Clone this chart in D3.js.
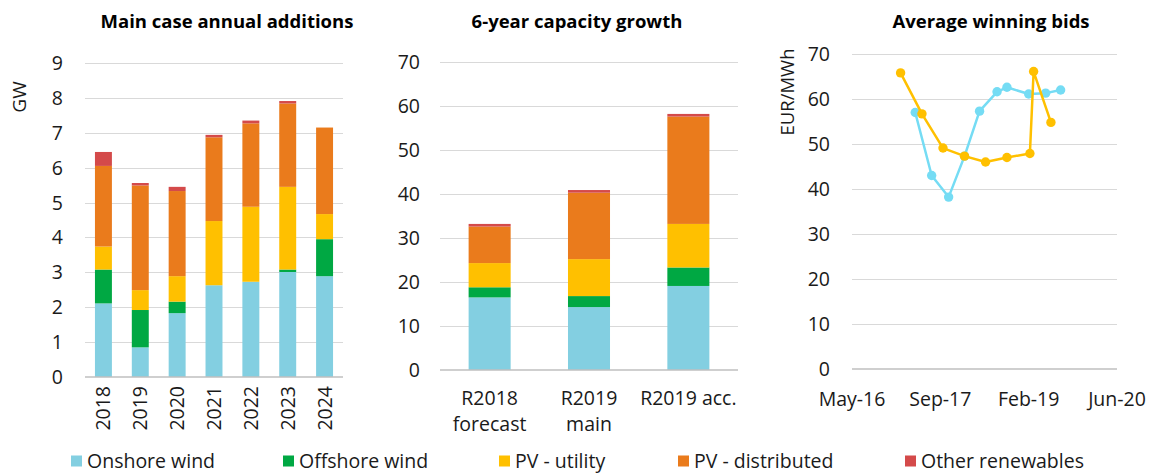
<!DOCTYPE html>
<html>
<head>
<meta charset="utf-8">
<script src="https://cdn.jsdelivr.net/npm/d3@7"></script>
<style>
  body { margin: 0; background: #fff; }
  svg { font-family: "Open Sans", "Noto Sans", sans-serif; }
</style>
</head>
<body>
<svg id="chart" width="1153" height="474"></svg>
<script>
// series and category data
var seriesNames = ["Onshore wind", "Offshore wind", "PV - utility", "PV - distributed", "Other renewables"];
var seriesColors = ["#83cfe1", "#00a843", "#ffc000", "#ea7b1c", "#d44a4a"];

var years = ["2018", "2019", "2020", "2021", "2022", "2023", "2024"];
var onshoreAnnual = [2.11, 0.85, 1.83, 2.63, 2.73, 3.01, 2.89];
var offshoreAnnual = [0.97, 1.07, 0.33, 0, 0, 0.07, 1.06];
var utilityAnnual = [0.66, 0.57, 0.73, 1.84, 2.15, 2.37, 0.72];
var distributedAnnual = [2.31, 3.0, 2.44, 2.40, 2.39, 2.39, 2.48];
var otherAnnual = [0.40, 0.07, 0.12, 0.07, 0.08, 0.07, 0];
var annualTicks = [0, 1, 2, 3, 4, 5, 6, 7, 8, 9];

var cases = ["R2018 forecast", "R2019 main", "R2019 acc."];
var caseLines = [["R2018", "forecast"], ["R2019", "main"], ["R2019 acc."]];
var onshoreGrowth = [16.5, 14.3, 19.1];
var offshoreGrowth = [2.3, 2.5, 4.2];
var utilityGrowth = [5.5, 8.4, 9.9];
var distributedGrowth = [8.3, 15.1, 24.4];
var otherGrowth = [0.6, 0.6, 0.6];
var growthTicks = [0, 10, 20, 30, 40, 50, 60, 70];

var windDates = ["2017-05-03", "2017-08-04", "2017-11-08", "2018-02-06", "2018-05-02", "2018-08-09",
                 "2018-10-04", "2019-02-04", "2019-05-11", "2019-08-04"];
var windBids = [57.0, 43.0, 38.2, 47.3, 57.3, 61.6, 62.6, 61.1, 61.3, 62.0];
var solarDates = ["2017-02-09", "2017-06-10", "2017-10-07", "2018-02-06", "2018-06-05", "2018-10-04",
                  "2019-02-11", "2019-03-04", "2019-06-10"];
var solarBids = [65.8, 56.7, 49.1, 47.3, 46.0, 47.0, 47.9, 66.1, 54.8];
var bidTicks = [0, 10, 20, 30, 40, 50, 60, 70];
var dateTicks = ["2016-05-10", "2017-09-22", "2019-02-04", "2020-06-18"];

var svg = d3.select("#chart");
var parseDate = d3.timeParse("%Y-%m-%d");
var gridColor = "#d9d9d9",
  baseColor = "#bfbfbf",
  textColor = "#1a1a1a",
  tickSize = "19.5px";

function drawTitle(x, text) {
  svg.append("text")
    .attr("x", x).attr("y", 28)
    .attr("text-anchor", "middle")
    .style("font-size", "18.5px")
    .style("font-weight", "bold")
    .attr("fill", "#000")
    .text(text);
}

function drawYAxis(y, ticks, x0, x1, labelX) {
  var g = svg.append("g");
  g.selectAll("line.grid").data(ticks.slice(1)).enter().append("line")
    .attr("x1", x0).attr("x2", x1)
    .attr("y1", function(d) { return Math.round(y(d)) + 0.5; })
    .attr("y2", function(d) { return Math.round(y(d)) + 0.5; })
    .attr("stroke", gridColor).attr("stroke-width", 1);
  g.selectAll("text").data(ticks).enter().append("text")
    .attr("x", labelX)
    .attr("y", function(d) { return y(d); })
    .attr("dy", "0.36em")
    .attr("text-anchor", "end")
    .style("font-size", tickSize)
    .attr("fill", textColor)
    .text(function(d) { return d; });
  return g;
}

function drawBase(y0, x0, x1) {
  svg.append("line")
    .attr("x1", x0).attr("x2", x1)
    .attr("y1", y0).attr("y2", y0)
    .attr("stroke", baseColor).attr("stroke-width", 1.5);
}

function stackedBars(cats, cols, x, y) {
  var rows = cats.map(function(c, i) {
    var r = { cat: c };
    seriesNames.forEach(function(s, j) { r[s] = cols[j][i]; });
    return r;
  });
  var stacked = d3.stack().keys(seriesNames)(rows);
  svg.append("g").selectAll("g").data(stacked).enter().append("g")
    .attr("fill", function(d, i) { return seriesColors[i]; })
    .selectAll("rect").data(function(d) { return d; }).enter().append("rect")
    .attr("x", function(d) { return x(d.data.cat); })
    .attr("width", x.bandwidth())
    .attr("y", function(d) { return y(d[1]); })
    .attr("height", function(d) { return y(d[0]) - y(d[1]); });
}

// ---- left: annual additions
var x1 = d3.scaleBand().domain(years).range([85, 343]).paddingInner(0.54).paddingOuter(0.27);
var y1 = d3.scaleLinear().domain([0, 9]).range([377, 63]);
drawTitle(227, "Main case annual additions");
drawYAxis(y1, annualTicks, 85, 343, 63);
stackedBars(years, [onshoreAnnual, offshoreAnnual, utilityAnnual, distributedAnnual, otherAnnual], x1, y1);
drawBase(377, 85, 343);
svg.append("g").selectAll("text").data(years).enter().append("text")
  .attr("transform", function(d) {
    return "translate(" + (x1(d) + x1.bandwidth() / 2) + ",386) rotate(-90)";
  })
  .attr("dy", "0.36em")
  .attr("text-anchor", "end")
  .style("font-size", tickSize)
  .attr("fill", textColor)
  .text(function(d) { return d; });
svg.append("text")
  .attr("transform", "translate(19,97) rotate(-90)")
  .attr("dy", "0.36em")
  .attr("text-anchor", "middle")
  .style("font-size", "19px")
  .attr("fill", textColor)
  .text("GW");

// ---- middle: 6-year growth
var x2 = d3.scaleBand().domain(cases).range([440, 738]).paddingInner(0.577).paddingOuter(0.288);
var y2 = d3.scaleLinear().domain([0, 70]).range([370, 62]);
drawTitle(577, "6-year capacity growth");
drawYAxis(y2, growthTicks, 440, 738, 420);
stackedBars(cases, [onshoreGrowth, offshoreGrowth, utilityGrowth, distributedGrowth, otherGrowth], x2, y2);
drawBase(370, 440, 738);
cases.forEach(function(c, i) {
  var t = svg.append("text")
    .attr("x", x2(c) + x2.bandwidth() / 2)
    .attr("y", 405)
    .attr("text-anchor", "middle")
    .style("font-size", tickSize)
    .attr("fill", textColor);
  caseLines[i].forEach(function(line, k) {
    t.append("tspan")
      .attr("x", x2(c) + x2.bandwidth() / 2)
      .attr("dy", k === 0 ? 0 : 26)
      .text(line);
  });
});

// ---- right: average winning bids
var x3 = d3.scaleTime().domain([parseDate(dateTicks[0]), parseDate(dateTicks[3])]).range([852, 1117]);
var y3 = d3.scaleLinear().domain([0, 70]).range([369, 54]);
drawTitle(991, "Average winning bids");
drawYAxis(y3, bidTicks, 852, 1117, 830);
drawBase(369, 852, 1117);
svg.append("g").selectAll("text").data(dateTicks).enter().append("text")
  .attr("x", function(d) { return x3(parseDate(d)); })
  .attr("y", 399)
  .attr("dy", "0.36em")
  .attr("text-anchor", "middle")
  .style("font-size", tickSize)
  .attr("fill", textColor)
  .text(function(d) { return d3.timeFormat("%b-%y")(parseDate(d)); });
svg.append("text")
  .attr("transform", "translate(787,92) rotate(-90)")
  .attr("dy", "0.36em")
  .attr("text-anchor", "middle")
  .style("font-size", "18.5px")
  .attr("fill", textColor)
  .text("EUR/MWh");

var bidSeries = [
  { dates: windDates, values: windBids, color: "#75dcf4" },
  { dates: solarDates, values: solarBids, color: "#ffc000" }
];
var line = d3.line()
  .x(function(d) { return x3(d.date); })
  .y(function(d) { return y3(d.value); });
bidSeries.forEach(function(s) {
  var pts = s.dates.map(function(d, i) { return { date: parseDate(d), value: s.values[i] }; });
  var g = svg.append("g");
  g.append("path").datum(pts)
    .attr("d", line)
    .attr("fill", "none")
    .attr("stroke", s.color)
    .attr("stroke-width", 2.5)
    .attr("stroke-linejoin", "round");
  g.selectAll("circle").data(pts).enter().append("circle")
    .attr("cx", function(d) { return x3(d.date); })
    .attr("cy", function(d) { return y3(d.value); })
    .attr("r", 4.7)
    .attr("fill", s.color);
});

// ---- legend
var legendX = [71, 283, 499, 678, 905];
var legend = svg.append("g").selectAll("g").data(seriesNames).enter().append("g")
  .attr("transform", function(d, i) { return "translate(" + legendX[i] + ",461)"; });
legend.append("rect")
  .attr("x", 0).attr("y", -5.5).attr("width", 11).attr("height", 11)
  .attr("fill", function(d, i) { return seriesColors[i]; });
legend.append("text")
  .attr("x", 16).attr("y", 0)
  .attr("dy", "0.36em")
  .style("font-size", "19.5px")
  .attr("fill", textColor)
  .text(function(d) { return d; });
</script>
</body>
</html>
